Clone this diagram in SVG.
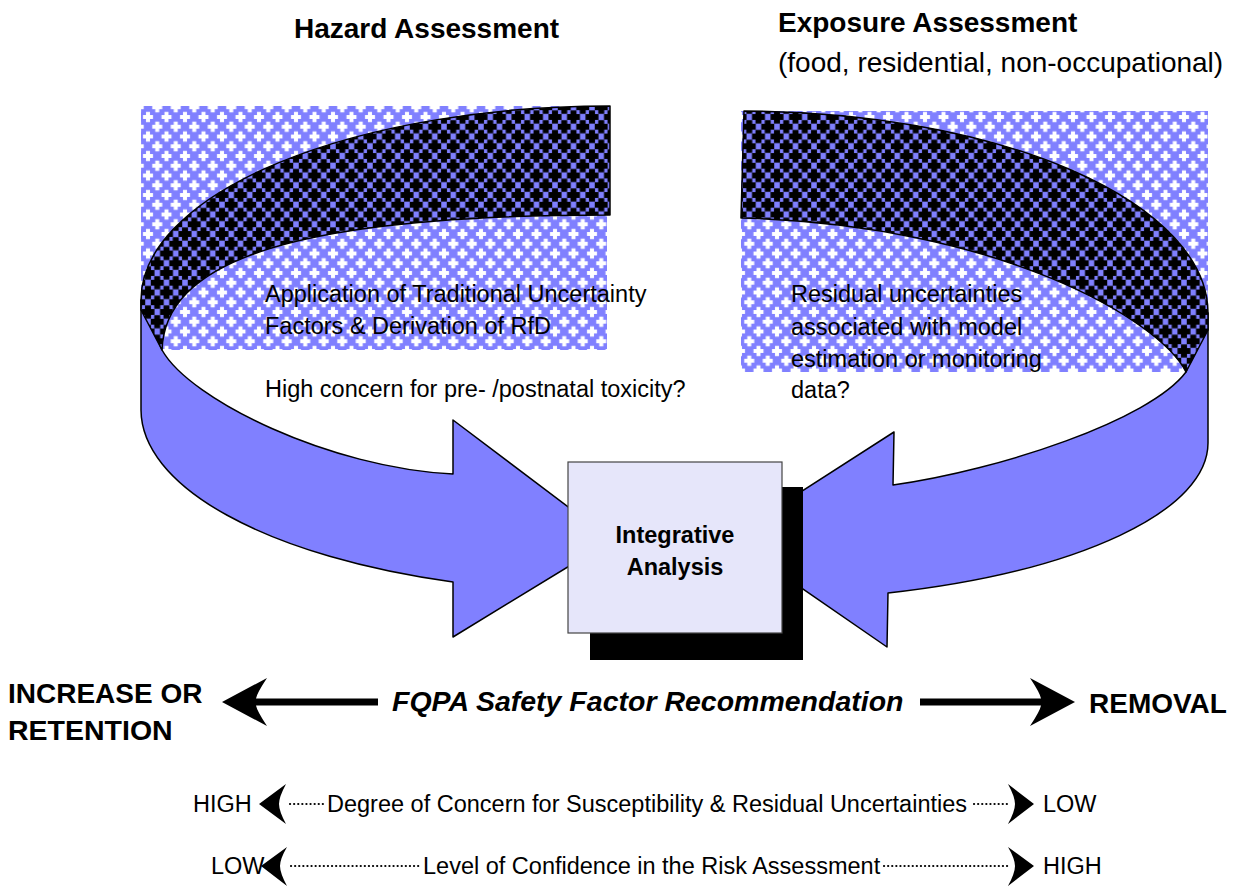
<svg xmlns="http://www.w3.org/2000/svg" xmlns:xlink="http://www.w3.org/1999/xlink" width="1245" height="886" viewBox="0 0 1245 886">
  <style>
    .t { font-family: "Liberation Sans", Arial, sans-serif; fill: #000; }
    .title { font-size: 28px; font-weight: bold; }
    .sub { font-size: 28px; }
    .body { font-size: 23.5px; }
    .box-t { font-size: 23.5px; font-weight: bold; }
    .big { font-size: 28.5px; font-weight: bold; }
    .ribbon { fill: #8080ff; stroke: #000; stroke-width: 1.5; stroke-linejoin: round; }
    .band { fill: url(#darkPat); stroke: #000; stroke-width: 1.5; stroke-linejoin: round; }
    .dots { stroke: #000; stroke-width: 2.2; stroke-dasharray: 0.1 4; stroke-linecap: round; fill: none; }
    .head { fill: #000; }
  </style>
  <defs>
    <path id="xw" d="M-5,-2h10v4h-10z M-2,-5h4v10h-4z" fill="#ffffff"/>
    <path id="xb" d="M-6.5,-3h13v6h-13z M-3,-6.5h6v13h-6z" fill="#000000"/>
    <pattern id="lightPat" width="18.5" height="19.5" patternUnits="userSpaceOnUse">
      <rect width="18.5" height="19.5" fill="#8080ff"/>
      <use xlink:href="#xw" x="9.25" y="9.75"/>
      <use xlink:href="#xw" x="0" y="0"/>
      <use xlink:href="#xw" x="18.5" y="0"/>
      <use xlink:href="#xw" x="0" y="19.5"/>
      <use xlink:href="#xw" x="18.5" y="19.5"/>
    </pattern>
    <pattern id="darkPat" width="18.5" height="19.5" patternUnits="userSpaceOnUse">
      <rect width="18.5" height="19.5" fill="#8080ff"/>
      <use xlink:href="#xb" x="9.25" y="9.75"/>
      <use xlink:href="#xb" x="0" y="0"/>
      <use xlink:href="#xb" x="18.5" y="0"/>
      <use xlink:href="#xb" x="0" y="19.5"/>
      <use xlink:href="#xb" x="18.5" y="19.5"/>
    </pattern>
  </defs>

  <rect width="1245" height="886" fill="#ffffff"/>

  <!-- Hazard Assessment -->
  <g id="hazard-assessment">
    <rect x="141" y="106" width="466" height="244" fill="url(#lightPat)"/>
    <path class="ribbon" d="M141,300 L141,410 A469,183 0 0 0 453,582 L453,637 L612,540 L453,420 L453,474 C330,468 190,400 162,350 Z"/>
    <path class="band" d="M610,106 A469,194 0 0 0 141,300 L141,310 L162,350 C165,265 280,215 610,215 Z"/>
    <text class="t title" x="294" y="38">Hazard Assessment</text>
    <text class="t body" x="265" y="302">Application of Traditional Uncertainty</text>
    <text class="t body" x="265" y="334">Factors &amp; Derivation of RfD</text>
    <text class="t body" x="265" y="397">High concern for pre- /postnatal toxicity?</text>
  </g>

  <!-- Exposure Assessment -->
  <g id="exposure-assessment">
    <rect x="741" y="111" width="467" height="261" fill="url(#lightPat)"/>
    <path class="ribbon" d="M1208,313 L1208,443 A466,158 0 0 1 888,593 L887,647 L729,538 L894,432 L893,485 C1000,470 1150,420 1186,372 Z"/>
    <path class="band" d="M744,111 A466,202 0 0 1 1208,313 L1208,330 L1186,372 C1160,320 1000,225 741,218 Z"/>
    <text class="t title" x="778" y="32">Exposure Assessment</text>
    <text class="t sub" x="778" y="72">(food, residential, non-occupational)</text>
    <text class="t body" x="791" y="302">Residual uncertainties</text>
    <text class="t body" x="791" y="335">associated with model</text>
    <text class="t body" x="791" y="367">estimation or monitoring</text>
    <text class="t body" x="791" y="398">data?</text>
  </g>

  <!-- Integrative Analysis -->
  <g id="integrative-analysis">
    <rect x="590" y="487" width="213" height="173" fill="#000"/>
    <rect x="568" y="462" width="214" height="171" fill="#e6e6fa" stroke="#444" stroke-width="1.2"/>
    <text class="t box-t" x="675" y="543" text-anchor="middle">Integrative</text>
    <text class="t box-t" x="675" y="575" text-anchor="middle">Analysis</text>
  </g>

  <!-- Connectors: scales -->
  <g id="connectors">
    <path class="head" d="M222,702 L267,678 Q257,693 256,698.5 L378,698.5 L378,705.5 L256,705.5 Q257,711 267,726 Z"/>
    <path class="head" d="M1075,702 L1030,678 Q1040,693 1041,698.5 L920,698.5 L920,705.5 L1041,705.5 Q1040,711 1030,726 Z"/>

    <path class="head" d="M259,804 L286,784 Q279,797 279,804 Q279,811 286,824 Z"/>
    <line class="dots" x1="290" y1="804" x2="324" y2="804"/>
    <line class="dots" x1="974" y1="804" x2="1010" y2="804"/>
    <path class="head" d="M1034,804 L1008,784 Q1015,797 1015,804 Q1015,811 1008,824 Z"/>

    <path class="head" d="M261,866 L287,847 Q280,859 280,866 Q280,873 287,886 Z"/>
    <line class="dots" x1="291" y1="866" x2="419" y2="866"/>
    <line class="dots" x1="884" y1="866" x2="1010" y2="866"/>
    <path class="head" d="M1034,866 L1008,847 Q1015,859 1015,866 Q1015,873 1008,886 Z"/>
  </g>

  <!-- Scale labels -->
  <g id="labels">
    <text class="t title" x="8" y="703">INCREASE OR</text>
    <text class="t big" x="8" y="740">RETENTION</text>
    <text class="t big" x="392" y="711" font-style="italic">FQPA Safety Factor Recommendation</text>
    <text class="t title" x="1089" y="713">REMOVAL</text>

    <text class="t body" x="193" y="812">HIGH</text>
    <text class="t body" x="327" y="812">Degree of Concern for Susceptibility &amp; Residual Uncertainties</text>
    <text class="t body" x="1043" y="812">LOW</text>

    <text class="t body" x="211" y="874">LOW</text>
    <text class="t body" x="423" y="874">Level of Confidence in the Risk Assessment</text>
    <text class="t body" x="1043" y="874">HIGH</text>
  </g>
</svg>
